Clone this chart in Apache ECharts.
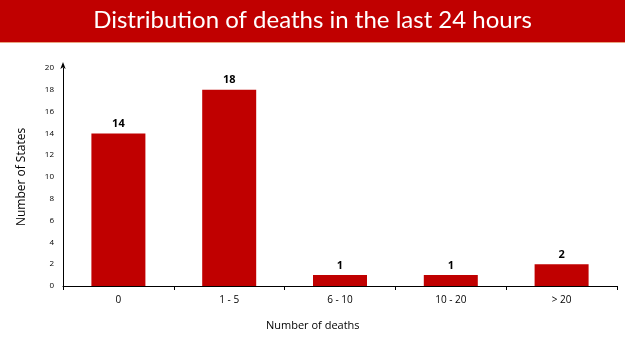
<!DOCTYPE html>
<html>
<head>
<meta charset="utf-8">
<script src="https://cdn.jsdelivr.net/npm/echarts@6/dist/echarts.min.js"></script>
<style>
  html, body { margin: 0; padding: 0; background: #fff; }
  #chart { width: 625px; height: 351px; }
</style>
</head>
<body>
<div id="chart"></div>
<script>
const categories = ["0", "1 - 5", "6 - 10", "10 - 20", "> 20"];
const states = [14, 18, 1, 1, 2];
const yTicks = { min: 0, max: 20, interval: 2 };

const chart = echarts.init(document.getElementById("chart"));

const option = {
  animation: false,
  grid: { left: 63, right: 8, top: 68, bottom: 65 },
  graphic: [
    { type: "rect", left: 0, top: 0, shape: { width: 625, height: 42 }, style: { fill: "#C00000" } },
    { type: "rect", left: 0, top: 42, shape: { width: 625, height: 1 }, style: { fill: "#E9A47F" } },
    {
      type: "text", left: "center", top: 8,
      style: { text: "Distribution of deaths in the last 24 hours", fill: "#fff", font: "24px Lato" }
    },
    {
      type: "text", left: 266, top: 320,
      style: { text: "Number of deaths", fill: "#000", font: "11px 'Open Sans'" }
    }
  ],
  xAxis: {
    type: "category",
    data: categories,
    axisLine: { lineStyle: { color: "#000", width: 1 } },
    axisTick: { show: true, length: 4, lineStyle: { color: "#000" } },
    axisLabel: { color: "#000", fontSize: 10, fontFamily: "Open Sans", margin: 9 }
  },
  yAxis: {
    type: "value",
    min: yTicks.min, max: yTicks.max, interval: yTicks.interval,
    name: "Number of States",
    nameLocation: "middle",
    nameGap: 35,
    nameTextStyle: { color: "#000", fontSize: 12, fontFamily: "Open Sans" },
    axisLine: { show: true, lineStyle: { color: "#000" }, symbol: ["none", "arrow"], symbolSize: [4, 7], symbolOffset: [0, 6] },
    axisTick: { show: false },
    splitLine: { show: false },
    axisLabel: { color: "#000", fontSize: 8, fontFamily: "Open Sans", margin: 9 }
  },
  series: [{
    type: "bar",
    data: states,
    barWidth: 54,
    itemStyle: { color: "#C00000" },
    label: {
      show: true, position: "top", distance: 4,
      color: "#000", fontWeight: "bold", fontSize: 11, fontFamily: "Open Sans"
    }
  }]
};

chart.setOption(option);
</script>
</body>
</html>
